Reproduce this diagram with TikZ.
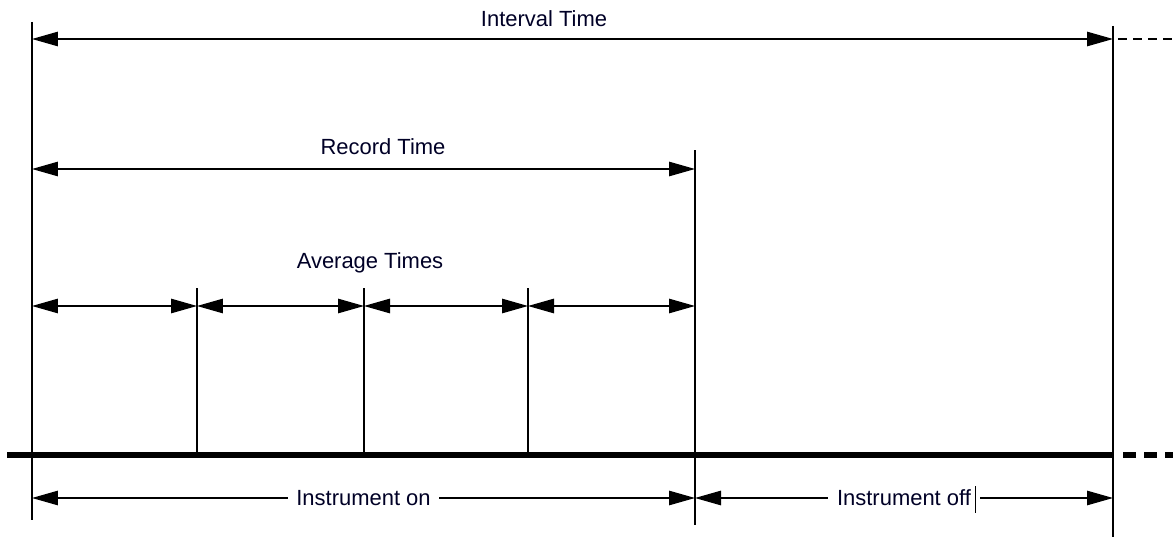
\documentclass[tikz,border=0pt]{standalone}
\usepackage{fontspec}
\setmainfont{Liberation Sans}
\usetikzlibrary{arrows.meta}

\begin{document}
\begin{tikzpicture}[x=0.02cm,y=-0.02cm,line join=miter,
    >={Triangle[length=0.52cm,width=0.29cm]},
    dim/.style={<->,line width=0.7pt},
    tick/.style={line width=0.8pt},
    lbl/.style={font=\fontsize{12.5}{15}\selectfont,text=black!85!blue,inner sep=1pt},
    gap/.style={lbl,fill=white,inner sep=5pt}]
    \useasboundingbox (0,0) rectangle (1173,537);

    % tick lines
    \coordinate (L0) at (32,22);   \coordinate (L1) at (32,520);
    \coordinate (R0) at (1113,26); \coordinate (R1) at (1113,537);
    \coordinate (M0) at (695,150); \coordinate (M1) at (695,525);
    \foreach \x [count=\i] in {197,364,528} {
        \coordinate (A\i) at (\x,288);
        \coordinate (B\i) at (\x,455);
        \draw[tick] (A\i) -- (B\i);
    }
    \draw[tick] (L0) -- (L1);
    \draw[tick] (R0) -- (R1);
    \draw[tick] (M0) -- (M1);

    % time axis
    \coordinate (T0) at (7,455);
    \coordinate (T1) at (1113,455);
    \coordinate (T2) at (1173,455);
    \draw[line width=2.9pt] (T0) -- (T1);
    \draw[line width=2.9pt,dash pattern=on 0.26cm off 0.16cm] ([xshift=0.2cm]T1) -- (T2);

    % interval time
    \coordinate (I0) at (32,39);
    \coordinate (I1) at (1113,39);
    \coordinate (I2) at (1173,39);
    \draw[dim] (I0) -- (I1);
    \draw[line width=0.7pt,dash pattern=on 0.18cm off 0.12cm] ([xshift=0.1cm]I1) -- (I2);
    \node[lbl] (interval) at (544,19) {Interval Time};

    % record time
    \coordinate (C0) at (32,169);
    \coordinate (C1) at (695,169);
    \draw[dim] (C0) -- (C1);
    \node[lbl] (record) at (383,147) {Record Time};

    % average times
    \foreach \x [count=\i] in {32,197,364,528,695} {
        \coordinate (V\i) at (\x,306);
    }
    \foreach \i [evaluate=\i as \j using int(\i+1)] in {1,...,4} {
        \draw[dim] (V\i) -- (V\j);
    }
    \node[lbl] (average) at (370,263) {Average Times};

    % instrument on / off
    \coordinate (N0) at (32,498);
    \coordinate (N1) at (695,498);
    \coordinate (N2) at (1113,498);
    \draw[dim] (N0) -- node[gap] (on) {Instrument on} (N1);
    \draw[dim] (N1) -- node[gap] (off) {Instrument off} (N2);
    \draw[line width=0.6pt] ([xshift=-0.1cm,yshift=0.24cm]off.east) -- ([xshift=-0.1cm,yshift=-0.3cm]off.east);
\end{tikzpicture}
\end{document}
